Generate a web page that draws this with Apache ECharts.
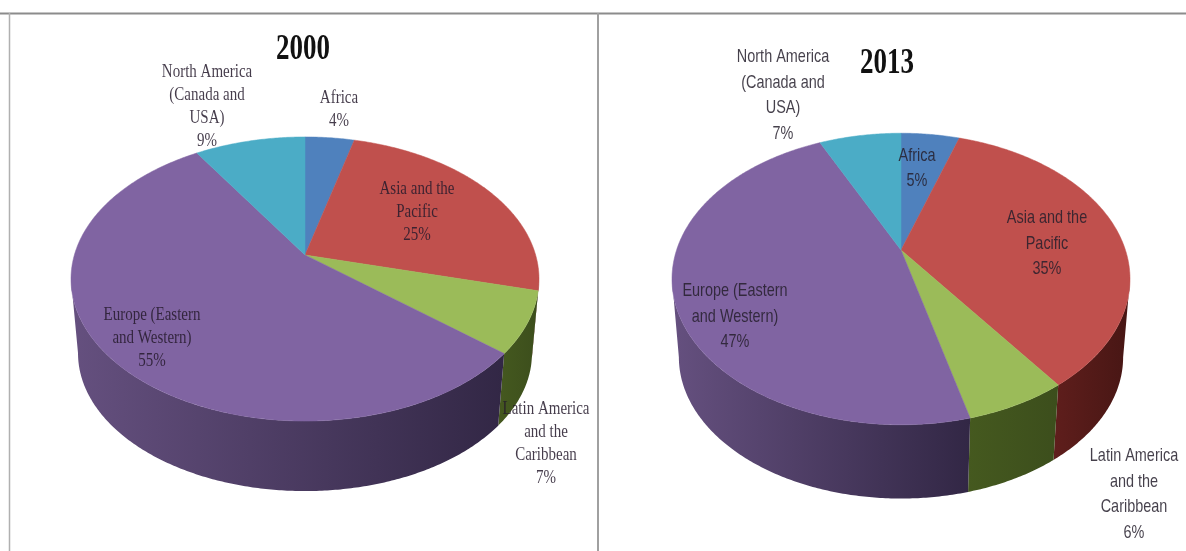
<!DOCTYPE html>
<html>
<head>
<meta charset="utf-8">
<style>html,body{margin:0;padding:0;background:#fff}#chart{width:1186px;height:551px}</style>
<script src="https://cdn.jsdelivr.net/npm/echarts@6/dist/echarts.min.js"></script>
</head>
<body>
<div id="chart"></div>
<script>
// Regional shares, percent of the total, clockwise from twelve o'clock.
const regions = ['Africa', 'Asia and the\nPacific', 'Latin America\nand the\nCaribbean', 'Europe (Eastern\nand Western)', 'North America\n(Canada and\nUSA)'];
const shares2000 = [4, 25, 7, 55, 9];
const shares2013 = [5, 35, 6, 47, 7];

const topColors = ['#4f81bd', '#c0504d', '#9bbb59', '#8064a2', '#4bacc6'];
const sideStops = [
  ['#2a4468', '#2a4468'],
  ['#5f1e1c', '#471614'],
  ['#45591f', '#3c4e1c'],
  ['#65507f', '#322745'],
  ['#2a6070', '#2a6070']
];

// Projection of each pie: a tilted disc seen in perspective, plus label placement.
const pieViews = [
  {
    cx: 305, cy: 255, halfWidth: 234, tilt: 138, k: 0.169, depth: 75, shrink: 0.97,
    font: 'Liberation Serif', fontSize: 15, scaleX: 1, scaleY: 1.3, lineGap: 23,
    textColor: '#241a2c',
    labels: [[339, 109.5], [417, 211.5], [546, 443.5], [152, 337.5], [207, 106.5]]
  },
  {
    cx: 901, cy: 250, halfWidth: 229, tilt: 140, k: 0.199, depth: 79, shrink: 0.97,
    font: 'Liberation Sans', fontSize: 17, scaleX: 0.85, scaleY: 1.08, lineGap: 25.5,
    textColor: '#241f2c',
    labels: [[917, 168.5], [1047, 243.5], [1134, 494.5], [735, 316.5], [783, 95.5]]
  }
];

// Project an angle (radians clockwise from the top) to the rim of a pie.
function rimPoint(view, angle, lower) {
  const a = view.halfWidth * Math.sqrt(1 - view.k * view.k);
  const w = 1 + view.k * Math.cos(angle);
  const s = lower ? view.shrink : 1;
  return [
    view.cx + s * a * Math.sin(angle) / w,
    view.cy + (lower ? view.depth : 0) - s * view.tilt * Math.cos(angle) / w
  ];
}

function arcAngles(from, to) {
  const steps = Math.max(2, Math.ceil((to - from) / 0.01));
  const out = [];
  for (let i = 0; i <= steps; i++) out.push(from + (to - from) * i / steps);
  return out;
}

function makeRenderItem(viewIndex, shares) {
  const view = pieViews[viewIndex];
  const total = shares.reduce((sum, v) => sum + v, 0);
  const toAngle = v => echarts.number.linearMap(v, [0, total], [0, Math.PI * 2]);

  return function (params, api) {
    const i = params.dataIndex;
    const value = api.value(0);
    const before = shares.slice(0, i).reduce((sum, v) => sum + v, 0);
    const start = toAngle(before);
    const end = toAngle(before + value);
    const children = [];

    // Outer wall: only the stretch of rim that faces the viewer.
    const frontFrom = Math.acos(-view.k);
    const frontTo = Math.PI * 2 - frontFrom;
    const wallFrom = Math.max(start, frontFrom);
    const wallTo = Math.min(end, frontTo);
    if (wallTo > wallFrom) {
      const angles = arcAngles(wallFrom, wallTo);
      const upper = angles.map(t => rimPoint(view, t, false));
      const lower = angles.map(t => rimPoint(view, t, true)).reverse();
      children.push({
        type: 'polygon',
        z2: 1,
        shape: { points: upper.concat(lower) },
        style: {
          fill: new echarts.graphic.LinearGradient(0, 0, 1, 0, [
            { offset: 0, color: sideStops[i][0] },
            { offset: 1, color: sideStops[i][1] }
          ]),
          stroke: null
        }
      });
    }

    // Top face of the slice.
    const facePoints = [[view.cx, view.cy]].concat(
      arcAngles(start, end).map(t => rimPoint(view, t, false))
    );
    children.push({
      type: 'polygon',
      z2: 2,
      shape: { points: facePoints },
      style: { fill: topColors[i], stroke: topColors[i], lineWidth: 0.5 }
    });

    // Name and share, centred on the stored label anchor.
    const anchor = view.labels[i];
    children.push({
      type: 'text',
      z2: 3,
      x: anchor[0],
      y: anchor[1],
      scaleX: view.scaleX,
      scaleY: view.scaleY,
      style: {
        x: 0,
        y: 0,
        text: regions[i] + '\n' + value + '%',
        fontFamily: view.font,
        fontSize: view.fontSize,
        lineHeight: view.lineGap / view.scaleY,
        fill: view.textColor,
        opacity: 0.85,
        align: 'center',
        verticalAlign: 'middle'
      }
    });

    return { type: 'group', children };
  };
}

function yearTitle(text, x, y) {
  return {
    type: 'text',
    x, y,
    scaleY: 1.35,
    style: {
      x: 0, y: 0,
      text,
      fontFamily: 'Liberation Serif',
      fontWeight: 'bold',
      fontSize: 27,
      fill: '#111',
      align: 'center',
      verticalAlign: 'middle'
    }
  };
}

function frameLine(x1, y1, x2, y2, color, width) {
  return {
    type: 'line',
    silent: true,
    shape: { x1, y1, x2, y2 },
    style: { stroke: color, lineWidth: width }
  };
}

const chart = echarts.init(document.getElementById('chart'), null, { renderer: 'canvas' });
chart.setOption({
  animation: false,
  backgroundColor: '#ffffff',
  graphic: [
    frameLine(0, 13.5, 1186, 13.5, '#8c8c8c', 2),
    frameLine(9.5, 13, 9.5, 551, '#b0b0b0', 1.5),
    frameLine(598, 13, 598, 551, '#a0a0a0', 2),
    yearTitle('2000', 303, 49.5),
    yearTitle('2013', 887, 64)
  ],
  series: [shares2000, shares2013].map((shares, idx) => ({
    type: 'custom',
    name: idx === 0 ? '2000' : '2013',
    coordinateSystem: 'none',
    renderItem: makeRenderItem(idx, shares),
    encode: { value: 0 },
    data: shares.map((v, i) => ({ name: regions[i], value: [v] }))
  }))
});
</script>
</body>
</html>
